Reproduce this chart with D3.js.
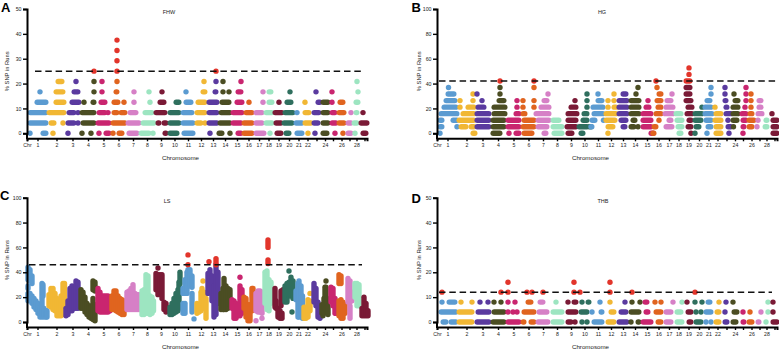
<!DOCTYPE html>
<html>
<head>
<meta charset="utf-8">
<script src="https://cdn.jsdelivr.net/npm/d3@7/dist/d3.min.js"></script>
<style>
  body { margin: 0; background: #fff; }
  svg { display: block; }
  text { font-family: "Liberation Sans", Arial, sans-serif; fill: #1a1a1a; }
</style>
</head>
<body>
<script>
const chrEnds = [21,38,53,69,84,99,113,127,141,154,168,180,192,204,216,227,237,246,257,267,276,285,294,302,310,319,326,333,342]
const tickLabels = ["1","2","3","4","5","6","7","8","9","10","11","12","13","14","15","16","17","18","19","20","21","22","","24","","26","","28",""]
const chrColors = ["#5b9bd1","#f1b734","#5a3a9f","#4b4d23","#c9256f","#e0641f","#d680c6","#9de5c1","#7a1a36","#2f6f5e"]
const hitColor = "#e2352b"

const fhwLevels = [0,4.17,8.33,12.5,16.67,20.83,25,29.17,33.33,37.5]
const fhwThreshold = 25
const fhwRuns = [
  [[3,3],[15,20],[26,26],[41,41],[55,55],[64,64],[72,72],[78,83],[86,86],[91,96],[101,111],[113,123],[126,126],[137,140],[142,151],[156,167],[183,183],[191,196],[203,203],[210,215],[216,226],[228,238],[243,243],[249,255],[258,263],[269,276],[281,281],[288,288],[295,301],[308,308],[316,316],[320,325],[328,328],[335,340]],
  [[2,20],[23,28],[35,37],[40,48],[51,51],[55,68],[70,83],[85,99],[100,113],[115,128],[130,133],[136,140],[142,153],[155,167],[169,175],[178,178],[181,191],[192,204],[205,215],[216,226],[228,236],[238,246],[248,255],[256,266],[268,276],[277,285],[286,292],[295,302],[304,310],[311,318],[320,325],[326,331],[333,341]],
  [[2,20],[21,38],[41,48],[51,51],[54,68],[71,79],[81,81],[86,91],[93,99],[102,110],[117,126],[128,139],[142,153],[155,166],[169,179],[181,191],[193,204],[205,216],[218,226],[228,236],[238,246],[247,256],[257,267],[270,270],[277,283],[286,293],[295,302],[304,309],[311,318],[324,324],[328,331],[336,336]],
  [[9,20],[28,38],[44,53],[57,57],[65,68],[73,79],[86,92],[97,97],[107,107],[123,123],[132,138],[148,153],[158,165],[170,179],[181,191],[194,203],[209,216],[222,222],[236,236],[241,246],[252,252],[259,265],[278,278],[290,294],[295,302],[305,305],[312,317],[328,332]],
  [[13,13],[28,37],[46,52],[67,67],[75,75],[88,91],[107,107],[122,122],[135,135],[159,159],[175,179],[187,190],[196,196],[201,203],[210,215],[236,236],[241,245],[263,263],[289,289],[305,305],[331,331]],
  [[30,36],[49,49],[67,67],[75,75],[90,90],[177,177],[189,189],[196,196],[214,214],[330,330]],
  [[67,67],[90,90],[189,189]],
  [[90,90]],
  [[90,90]],
  [[90,90]]
]

const hgLevels = [0,5.26,10.53,15.79,21.05,26.32,31.58,36.84,42.11,47.37,52.63]
const hgThreshold = 42.1
const hgRuns = [
  [[3,3],[35,39],[55,64],[72,72],[78,83],[86,96],[106,110],[116,126],[130,136],[143,147],[171,171],[213,218],[241,245],[254,254],[258,258],[270,270],[278,285],[292,292],[306,306],[335,341]],
  [[2,6],[20,20],[23,30],[33,38],[39,53],[55,68],[70,83],[85,98],[100,111],[115,126],[129,140],[141,151],[151,156],[170,177],[185,189],[193,198],[201,201],[205,215],[216,220],[228,236],[240,246],[250,255],[258,263],[270,275],[278,285],[290,295],[296,297],[305,308],[311,316],[320,320],[327,331],[335,341]],
  [[2,6],[15,21],[21,38],[39,53],[55,68],[70,83],[86,98],[100,113],[115,123],[130,140],[145,151],[154,159],[166,167],[168,179],[183,190],[195,199],[205,215],[222,222],[231,235],[239,246],[251,255],[257,265],[268,275],[277,285],[290,292],[295,301],[305,310],[311,318],[321,321],[328,331],[335,341]],
  [[3,21],[25,38],[39,53],[56,69],[78,83],[85,89],[98,113],[130,141],[146,151],[156,167],[168,180],[181,191],[193,203],[205,215],[218,225],[227,237],[238,245],[249,256],[257,266],[267,276],[278,285],[288,295],[295,302],[304,310],[312,316],[320,326],[335,335]],
  [[6,20],[23,23],[30,38],[40,48],[56,69],[80,80],[86,86],[97,97],[103,113],[133,140],[150,150],[155,167],[171,171],[176,180],[181,191],[193,203],[208,213],[220,225],[228,237],[250,256],[265,265],[267,275],[278,278],[288,291],[295,302],[308,308],[314,314],[321,325]],
  [[8,19],[23,23],[36,36],[45,45],[61,68],[80,80],[86,86],[97,97],[106,111],[138,138],[150,150],[160,166],[171,171],[177,177],[181,191],[193,203],[211,211],[219,225],[229,235],[248,255],[269,274],[287,290],[297,302],[309,309],[314,314],[321,325]],
  [[10,18],[36,36],[40,40],[63,63],[111,111],[150,150],[161,161],[177,177],[185,190],[199,199],[221,225],[235,235],[248,254],[274,274],[288,288],[297,297],[309,309],[314,314]],
  [[11,12],[63,63],[97,97],[201,201],[220,220],[248,254],[274,274],[288,288],[309,309]],
  [[63,63],[97,97],[219,219],[248,254]],
  [[252,252]],
  [[252,252]]
]

const thbLevels = [0,4,8,12,16]
const thbThreshold = 12
const thbRuns = [
  [[5,10],[13,20],[21,36],[39,53],[55,68],[70,83],[85,88],[93,98],[100,112],[115,126],[130,135],[138,138],[145,145],[150,150],[156,166],[170,178],[181,191],[194,194],[200,203],[205,215],[220,225],[228,235],[239,246],[251,255],[258,265],[269,269],[274,274],[278,283],[287,291],[295,300],[305,308],[311,316],[320,323],[328,330],[335,341]],
  [[3,20],[21,36],[40,53],[56,68],[71,71],[76,76],[80,80],[86,98],[101,111],[115,126],[130,140],[143,151],[155,155],[163,166],[173,178],[183,190],[193,203],[208,212],[218,225],[228,235],[239,245],[250,255],[259,259],[264,264],[268,275],[279,283],[288,288],[296,301],[306,306],[313,313],[324,324],[331,331],[336,336]],
  [[5,5],[11,19],[24,24],[35,35],[43,43],[51,51],[57,57],[64,64],[71,71],[78,78],[90,95],[102,107],[119,119],[131,131],[136,140],[145,145],[150,153],[163,163],[173,173],[188,188],[195,195],[203,203],[207,211],[218,218],[224,224],[236,236],[245,245],[250,250],[258,258],[265,265],[270,274],[282,282],[289,289],[296,296],[331,331],[336,336]],
  [[5,5],[64,64],[71,71],[90,90],[95,95],[106,106],[137,137],[143,143],[173,173],[195,195],[258,258]],
  [[71,71],[137,137],[173,173]]
]

// LS is continuous, one [position, low, high] column per window
const lsThreshold = 46
const lsColumns = [
  [1,33,45],[3,32,43],[5,30,38],[1,26,30],[1,16,24],[3,16,24],[5,14,22],[7,11,20],[9,9,18],[11,6,16],[13,3,13],[15,3,32],[16,20,31],[17,3,12],[19,3,10],[20,3,10],
  [22,12,23],[24,11,28],[26,9,28],[28,8,24],[30,4,20],[32,4,19],[34,4,22],[36,8,32],[37.5,5,32],
  [39,4,12],[41,5,18],[43,8,28],[45,8,30],[47,10,27],[49,10,34],[51,10,33],[52.5,12,26],
  [54,10,27],[56,10,25],[58,7,21],[60,5,16],[62,3,14],[64,2,14],[66,1,20],[66,25,34],[68,0,15],[68,24,33],
  [71,8,28],[73,7,25],[75,7,22],[77,7,22],[79,7,22],[81,7,22],[83,8,20],
  [85,9,22],[87,9,26],[89,8,26],[91,7,22],[93,6,20],[95,5,19],[97,5,18],
  [100,9,25],[102,9,26],[104,9,28],[106,9,31],[108,9,24],[110,9,23],[112,9,23],
  [115,5,26],[117,5,27],[119,6,39],[121,6,38],[123,5,22],[125,6,21],[126.5,8,18],
  [129,25,40],[131,21,39],[131,43.5,43.5],[133,25,39],[135,18,39],[137,9,17],[139,7,16],
  [143,5,13],[145,5,16],[147,6,20],[149,7,24],[151,8,27],[152,10,33],[153,30,41],
  [156,6,16],[158,6,16],[156,22,28],[158,22,35],[160,22,41],[161,30,43],[161,46,46],[161,54,54],[163,28,43],[165,7,24],[165,27,38],[167,2.5,2.5],
  [170,6,16],[172,7,15],[174,8,25],[175,14,28],[176,33,33],[177,10,25],[179,2,20],
  [181,22,40],[182,48.5,48.5],[183,25,43],[185,16,38],[187,3,30],[189,5,52],[191,14,41],
  [194,9,24],[196,9,28],[197,9,36],[199,9,30],[201,10,28],[203,13,27],
  [205,10,19],[207,2,18],[209,2,16],[211,4,15],[213,4,30],[213,36,36],[215,6,27],
  [217,10,21],[219,3,20],[221,0,15],[223,0,15],[225,8,28],[226,10,28],
  [229,8,24],[231,7,26],[233,7,26],[235,6,25],[229,1,1],[235,3,3],
  [238,14,41],[240,9,42],[241,46,51],[241,59,67],[242,8,20],[242,22,35],[244,14,33],
  [248,11,28],[249,10,18],[251,3,12],[253,2,10],[254,12,26],[255,2,8],[256,18,27],
  [258,15,30],[260,15,32],[262,20,33],[262,41,41],[264,20,37],[265,8,8],[266,18,34],
  [269,17,26],[271,3,32],[272,3,34],[274,4,30],[275.5,2,22],
  [277,2,13],[279,2,13],[281,3,19],[283,8,18],[283,23,23],
  [287,15,32],[289,12,28],[291,3,17],[293,2,12],
  [295,6,15],[296,5,5],[297,6,20],[298,10,29],[299,7,29],[300,7,20],[299,33,33],[301,5,14],
  [304,15,29],[306,12,28],[308,6,20],[309,6,17],
  [312,30,39],[314,30,38],[312,4,18],[314,2,19],[316,2,17],[318,6,15],
  [321,15,36],[323,15,34],[325,16,25],[323,2,14],
  [328,19,32],[330,12,32],[332,12,31],
  [335,4,12],[337,4,21],[339,4,16],[341,4,10]
]

const chrStarts = [0].concat(chrEnds.slice(0, -1))
const chrMids = chrEnds.map((e, i) => (e + chrStarts[i]) / 2)

// run ends above were read at the outer edge of the dots, pull them back towards the dot centres
const inset = (a, b, r) => {
  const t = Math.min(r, (b - a) / 2)
  return [a + t, b - t]
}

const svg = d3.select("body").append("svg").attr("width", 779).attr("height", 350)

// break a run at the chromosome edges so each piece gets its own colour
function splitRun(a, b) {
  const out = []
  chrEnds.forEach((end, i) => {
    const start = chrStarts[i]
    if (a === b ? (a >= start && a < end) : (a < end && b > start)) {
      out.push({a: Math.max(a, start), b: Math.min(b, end), color: chrColors[i % 10]})
    }
  })
  return out
}

function chrColorAt(pos) {
  return chrColors[d3.bisectRight(chrEnds, pos) % 10]
}

function stroke(g, x1, x2, y1, y2, color) {
  g.append("line")
    .attr("x1", x1).attr("x2", x2).attr("y1", y1).attr("y2", y2)
    .attr("stroke", color).attr("stroke-width", 5.4).attr("stroke-linecap", "round")
}

function panel(p) {
  const g = svg.append("g")
  const x = d3.scaleLinear().domain([0, 340]).range([p.left, p.left + 340])
  const y = d3.scaleLinear().domain([0, p.yMax]).range([p.bottom, p.bottom - 124.3])
  const axisY = p.bottom + 5

  const marks = g.append("g")
  if (p.runs) {
    p.runs.forEach((level, i) => {
      const v = p.levels[i]
      level.forEach(([a0, b0]) => {
        const [a, b] = inset(a0, b0, 1.2)
        splitRun(a, b).forEach(s => {
          stroke(marks, x(s.a), x(s.b), y(v), y(v), v >= p.threshold ? hitColor : s.color)
        })
      })
    })
  } else {
    p.columns.forEach(([pos, lo0, hi0]) => {
      const [lo, hi] = inset(lo0, hi0, 1)
      const c = chrColorAt(pos)
      if (lo < p.threshold) stroke(marks, x(pos), x(pos), y(lo), y(Math.min(hi, p.threshold)), c)
      if (hi >= p.threshold) stroke(marks, x(pos), x(pos), y(Math.max(lo, p.threshold)), y(hi), hitColor)
    })
  }

  g.append("line")
    .attr("x1", p.left + p.dashFrom).attr("x2", p.left + p.dashTo)
    .attr("y1", y(p.threshold)).attr("y2", y(p.threshold))
    .attr("stroke", "#111").attr("stroke-width", 1.5).attr("stroke-dasharray", "6.5 3.8")

  const xAxis = g.append("g")
    .attr("transform", `translate(0,${axisY})`)
    .call(d3.axisBottom(x)
      .tickValues([0].concat(chrMids))
      .tickSizeOuter(0).tickSize(3).tickPadding(2.5)
      .tickFormat((d, i) => i === 0 ? "Chr" : tickLabels[i - 1]))
  const yAxis = g.append("g")
    .attr("transform", `translate(${p.left},0)`)
    .call(d3.axisLeft(y).tickValues(d3.range(0, p.yMax + 1, p.yMax / 5))
      .tickSizeOuter(0).tickSize(4).tickPadding(1.5))
  // y axis line runs down to meet the x axis
  yAxis.append("line").attr("y1", p.bottom).attr("y2", axisY + 1)
  for (const a of [xAxis, yAxis]) {
    a.selectAll("text").style("font-size", "5.2px").attr("fill", "#1a1a1a")
    a.selectAll("line").attr("stroke", "#000").attr("stroke-width", 1.4)
    a.select(".domain").attr("stroke", "#000").attr("stroke-width", 2)
  }
  yAxis.select("line:last-child").attr("stroke-width", 2)

  g.append("text").text(p.name)
    .attr("x", p.left + p.nameX).attr("y", p.bottom - 119.5)
    .attr("text-anchor", "middle").style("font-size", "5.5px")
  g.append("text").text("Chromosome")
    .attr("x", p.left + 153.5).attr("y", axisY + 22)
    .attr("text-anchor", "middle").style("font-size", "6.2px")
  g.append("text").text("% SNP in Runs")
    .attr("transform", `translate(${p.left - p.titleGap},${p.bottom - 62}) rotate(-90)`)
    .attr("text-anchor", "middle").style("font-size", "5.8px")
  g.append("text").text(p.letter)
    .attr("x", p.letterX).attr("y", p.letterY)
    .style("font-size", "13px").style("font-weight", "bold").style("fill", "#000")
}

panel({name: "FHW", letter: "A", letterX: 1, letterY: 12, left: 27, bottom: 133.3, yMax: 50, titleGap: 18.5,
  levels: fhwLevels, runs: fhwRuns, threshold: fhwThreshold, nameX: 142, dashFrom: 8, dashTo: 335})
panel({name: "HG", letter: "B", letterX: 411.5, letterY: 12, left: 437, bottom: 133.3, yMax: 100, titleGap: 16.5,
  levels: hgLevels, runs: hgRuns, threshold: hgThreshold, nameX: 165, dashFrom: 2, dashTo: 341})
panel({name: "LS", letter: "C", letterX: 0, letterY: 200, left: 27, bottom: 322, yMax: 100, titleGap: 18.5,
  columns: lsColumns, threshold: lsThreshold, nameX: 140, dashFrom: 2, dashTo: 335})
panel({name: "THB", letter: "D", letterX: 411.5, letterY: 203, left: 437, bottom: 322, yMax: 50, titleGap: 16.5,
  levels: thbLevels, runs: thbRuns, threshold: thbThreshold, nameX: 166, dashFrom: 2, dashTo: 335})
</script>
</body>
</html>
